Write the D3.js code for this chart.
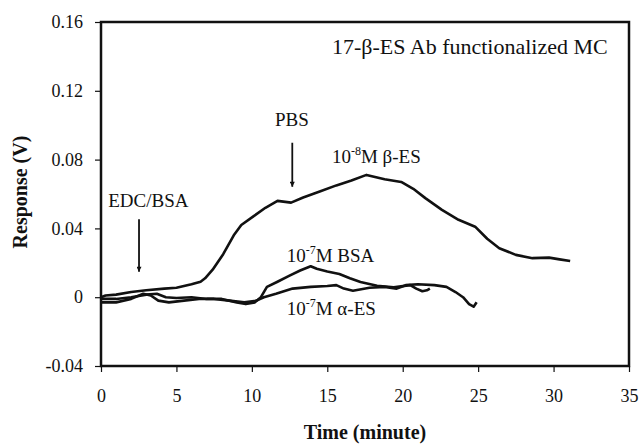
<!DOCTYPE html>
<html>
<head>
<meta charset="utf-8">
<script src="https://cdn.jsdelivr.net/npm/d3@7"></script>
<style>
  body { margin: 0; background: #fff; }
  svg { display: block; }
</style>
</head>
<body>
<div id="chart"></div>
<script>
// readings: [time (minute), response (V)]
const betaES = [[0, 0.0], [0.3, 0.001], [1, 0.0015], [2, 0.003], [3, 0.004], [4.2, 0.005], [5, 0.0055], [6, 0.0075], [6.6, 0.009], [6.9, 0.011],
  [7.4, 0.016], [8.1, 0.025], [8.8, 0.036], [9.3, 0.042], [10.1, 0.047], [10.9, 0.052], [11.7, 0.056], [12.6, 0.055],
  [13.4, 0.058], [14.5, 0.0615], [15.6, 0.065], [16.6, 0.0678], [17.6, 0.0711], [18.8, 0.0686], [19.9, 0.067],
  [20.7, 0.063], [21.5, 0.0576], [22.6, 0.0508], [23.7, 0.045], [24.8, 0.041], [25.6, 0.034], [26.4, 0.0285],
  [27.5, 0.0246], [28.6, 0.0227], [29.7, 0.023], [30.4, 0.022], [31.1, 0.021]]
const bsa = [[0, -0.001], [1, -0.001], [2, 0.0], [3, 0.0015], [3.7, 0.002], [4.3, 0.0], [5, -0.0005], [6, 0.0], [7, -0.001], [8, -0.001],
  [9, -0.003], [9.6, -0.004], [10.2, -0.003], [10.6, 0.0], [11, 0.006], [11.7, 0.009], [12.5, 0.0125], [13.2, 0.0155],
  [13.9, 0.018], [14.3, 0.0165], [15, 0.015], [15.8, 0.0135], [16.5, 0.011], [17.2, 0.0088], [18.3, 0.0067],
  [19.4, 0.0058], [20.5, 0.007], [20.9, 0.005], [21.3, 0.0035], [21.6, 0.004], [21.8, 0.005]]
const alphaES = [[0, -0.003], [1, -0.003], [2, -0.001], [2.8, 0.002], [3.3, 0.001], [3.8, -0.002], [4.5, -0.003], [5.5, -0.002],
  [6.5, -0.001], [7.5, -0.001], [8.5, -0.002], [9.5, -0.003], [10.3, -0.002], [10.8, 0.0], [11.6, 0.002], [12.7, 0.005],
  [13.9, 0.006], [15, 0.0065], [15.6, 0.007], [16.1, 0.005], [16.7, 0.0038], [17.8, 0.0055], [18.8, 0.006],
  [19.6, 0.005], [20.2, 0.007], [21, 0.0075], [22.1, 0.007], [22.9, 0.006], [23.5, 0.003], [24, 0.0], [24.4, -0.004],
  [24.7, -0.0055], [24.9, -0.003]]
const xTicks = [0, 5, 10, 15, 20, 25, 30, 35]
const yTicks = [-0.04, 0, 0.04, 0.08, 0.12, 0.16]
const yTickLabels = ['-0.04', '0', '0.04', '0.08', '0.12', '0.16']
// arrows: [time, top value, tip value]
const arrows = [[2.52, 0.0453, 0.0148], [12.68, 0.0898, 0.0642]]

const font = '"Liberation Serif", "DejaVu Serif", "Times New Roman", serif'
const w = 640
const h = 445
const margin = { top: 22, right: 11, bottom: 79, left: 101 }
const width = w - margin.left - margin.right
const height = h - margin.top - margin.bottom

const svg = d3.select('#chart').append('svg')
  .attr('width', w)
  .attr('height', h)
  .style('font-family', font)

svg.append('defs').append('marker')
  .attr('id', 'head')
  .attr('viewBox', '0 0 10 10')
  .attr('refX', 10).attr('refY', 5)
  .attr('markerWidth', 7).attr('markerHeight', 5)
  .attr('markerUnits', 'userSpaceOnUse')
  .attr('orient', 'auto')
  .append('path').attr('d', 'M0,0L10,5L0,10Z').attr('fill', '#111')

const g = svg.append('g').attr('transform', 'translate(' + margin.left + ',' + margin.top + ')')

const x = d3.scaleLinear().domain([0, 35]).range([0, width])
const y = d3.scaleLinear().domain([-0.04, 0.16]).range([height, 0])

const yAxis = g.append('g')
  .call(d3.axisLeft(y).tickValues(yTicks).tickSize(6).tickPadding(12).tickFormat((d, i) => yTickLabels[i]))
const xAxis = g.append('g')
  .attr('transform', 'translate(0,' + height + ')')
  .call(d3.axisBottom(x).tickValues(xTicks).tickSize(6).tickPadding(17))

;[yAxis, xAxis].forEach(a => {
  a.attr('font-family', font).attr('font-size', 18)
  a.select('.domain').remove()
  a.selectAll('line').attr('stroke', '#111').attr('stroke-width', 1.2)
  a.selectAll('text').attr('fill', '#111')
})

g.append('rect')
  .attr('width', width).attr('height', height)
  .attr('fill', 'none').attr('stroke', '#111').attr('stroke-width', 2.5)

const line = d3.line().x(d => x(d[0])).y(d => y(d[1]))
;[betaES, bsa, alphaES].forEach(s => {
  g.append('path')
    .datum(s)
    .attr('d', line)
    .attr('fill', 'none')
    .attr('stroke', '#111')
    .attr('stroke-width', 2.6)
    .attr('stroke-linejoin', 'round')
})

arrows.forEach(a => {
  g.append('line')
    .attr('x1', x(a[0])).attr('x2', x(a[0]))
    .attr('y1', y(a[1])).attr('y2', y(a[2]))
    .attr('stroke', '#111').attr('stroke-width', 1.8)
    .attr('marker-end', 'url(#head)')
})

// annotations: text placed at [time, value] of its left baseline
const note = (tx, ty, size, parts) => {
  const t = g.append('text').attr('x', x(tx)).attr('y', y(ty)).attr('font-size', size).attr('fill', '#111')
  parts.forEach(p => {
    const s = t.append('tspan').text(p[0])
    if (p[1] === 'sup') s.attr('dy', -8).attr('font-size', 12)
    if (p[1] === 'base') s.attr('dy', 8)
  })
}
note(15.31, 0.1412, 22, [['17-\u03b2-ES Ab functionalized MC']])
note(11.53, 0.0995, 19, [['PBS']])
note(15.31, 0.0778, 19, [['10'], ['-8', 'sup'], ['M \u03b2-ES', 'base']])
note(0.48, 0.0526, 19, [['EDC/BSA']])
note(12.31, 0.0206, 19, [['10'], ['-7', 'sup'], ['M BSA', 'base']])
note(12.31, -0.0103, 19, [['10'], ['-7', 'sup'], ['M \u03b1-ES', 'base']])

svg.append('text')
  .attr('x', margin.left + width / 2).attr('y', 439)
  .attr('text-anchor', 'middle').attr('font-size', 20).attr('font-weight', 'bold').attr('fill', '#111')
  .text('Time (minute)')

svg.append('text')
  .attr('transform', 'translate(27,192) rotate(-90)')
  .attr('text-anchor', 'middle').attr('font-size', 20).attr('font-weight', 'bold').attr('fill', '#111')
  .text('Response (V)')
</script>
</body>
</html>
